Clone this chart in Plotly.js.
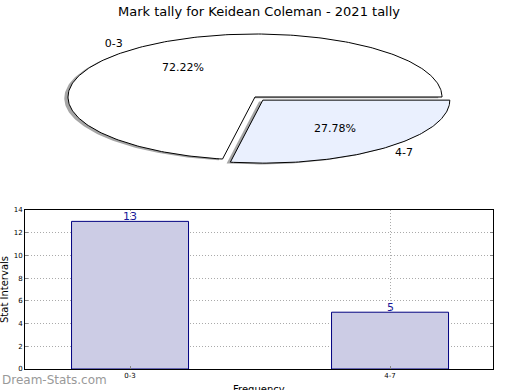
<!DOCTYPE html>
<html><head><meta charset="utf-8">
<script src="https://cdn.plot.ly/plotly-3.0.1.min.js"></script>
<style>body{margin:0}#chart{width:520px;height:390px}</style>
</head><body><div id="chart"></div>
<script>
// ---- data ----
const categories = ['0-3', '4-7'];
const counts = [13, 5];
const explode = [0, 0.065];
const sliceColors = ['#ffffff', '#eaf0fe'];
const yTicks = [0, 2, 4, 6, 8, 10, 12, 14];
const chartTitle = 'Mark tally for Keidean Coleman - 2021 tally';

const FONT = 'DejaVu Sans, Verdana, sans-serif';
const total = counts.reduce((a, b) => a + b, 0);
const shadows = [], slices = [], texts = [];
let a0 = 0;
counts.forEach((v, i) => {
  const frac = v / total;
  const a1 = a0 + frac * 2 * Math.PI;
  const mid = (a0 + a1) / 2;
  const ox = explode[i] * Math.cos(mid), oy = explode[i] * Math.sin(mid);
  const xs = [ox], ys = [oy];
  const n = Math.max(4, Math.ceil(frac * 360));
  for (let k = 0; k <= n; k++) {
    const a = a0 + (a1 - a0) * k / n;
    xs.push(ox + Math.cos(a)); ys.push(oy + Math.sin(a));
  }
  xs.push(ox); ys.push(oy);
  shadows.push({type: 'scatter', x: xs.map(x => x - 0.02), y: ys.map(y => y - 0.02),
    xaxis: 'x2', yaxis: 'y2', mode: 'lines', fill: 'toself',
    fillcolor: 'rgba(77,77,77,0.5)', line: {width: 0}, hoverinfo: 'skip', showlegend: false});
  slices.push({type: 'scatter', x: xs, y: ys, xaxis: 'x2', yaxis: 'y2', mode: 'lines',
    fill: 'toself', fillcolor: sliceColors[i], line: {color: '#000', width: 1},
    name: categories[i], hoverinfo: 'name', showlegend: false});
  texts.push({type: 'scatter', x: [ox + 0.6 * Math.cos(mid)], y: [oy + 0.6 * Math.sin(mid)],
    text: [(frac * 100).toFixed(2) + '%'], mode: 'text', textposition: 'middle center',
    textfont: {family: FONT, size: 11, color: '#000'}, xaxis: 'x2', yaxis: 'y2',
    hoverinfo: 'skip', showlegend: false});
  const c = Math.cos(mid);
  texts.push({type: 'scatter', x: [ox + 1.1 * c], y: [oy + 1.1 * Math.sin(mid)],
    text: [categories[i]], mode: 'text', textposition: c < 0 ? 'middle left' : 'middle right',
    textfont: {family: FONT, size: 11, color: '#000'}, xaxis: 'x2', yaxis: 'y2',
    hoverinfo: 'skip', showlegend: false, cliponaxis: false});
  a0 = a1;
});

const bar = {type: 'bar', x: categories, y: counts, width: 0.45,
  marker: {color: '#ccccE5', line: {color: '#000080', width: 1}},
  xaxis: 'x', yaxis: 'y', showlegend: false, hoverinfo: 'x+y'};

const barLabels = categories.map((c, i) => ({
  text: String(counts[i]), xref: 'x', yref: 'y', x: c, y: counts[i],
  xanchor: 'center', yanchor: 'bottom', yshift: -4, showarrow: false,
  font: {family: FONT, size: 11, color: '#1a1a9a'}}));

const W = 520, H = 390;
const gridDash = '1px,2px';
const layout = {
  width: W, height: H, margin: {l: 0, r: 0, t: 0, b: 0},
  paper_bgcolor: '#fff', plot_bgcolor: 'rgba(0,0,0,0)',
  font: {family: FONT, color: '#000'},
  showlegend: false,
  title: {text: chartTitle, x: 259 / W, xanchor: 'center', y: 1 - 11 / H, yanchor: 'middle',
    font: {family: FONT, size: 13, color: '#000'}},
  xaxis: {domain: [25 / W, 493 / W], type: 'category', categoryarray: categories,
    range: [-0.404, 1.396], showline: true, linecolor: '#000', linewidth: 1, mirror: true,
    ticks: 'inside', ticklen: 3, tickcolor: '#888', showgrid: true, gridcolor: '#aaa',
    griddash: gridDash, gridwidth: 1, tickfont: {family: FONT, size: 7, color: '#000'},
    zeroline: false, fixedrange: true, anchor: 'y'},
  yaxis: {domain: [1 - 369 / H, 1 - 210 / H], range: [0, 14], tickvals: yTicks,
    showline: true, linecolor: '#000', linewidth: 1, mirror: 'ticks',
    ticks: 'inside', ticklen: 3, tickcolor: '#888', showgrid: true, gridcolor: '#aaa',
    griddash: gridDash, gridwidth: 1, tickfont: {family: FONT, size: 7, color: '#000'},
    zeroline: false, fixedrange: true, anchor: 'x'},
  xaxis2: {domain: [0.4904 - 0.4675, 0.4904 + 0.4675], range: [-1.3, 1.3], visible: false,
    fixedrange: true, anchor: 'y2'},
  yaxis2: {domain: [0.7513 - 0.21, 0.7513 + 0.21], range: [-1.3, 1.3], visible: false,
    fixedrange: true, anchor: 'x2'},
  annotations: [
    ...barLabels,
    {text: 'Stat Intervals', textangle: -90, xref: 'paper', yref: 'paper',
     x: 4 / W, y: 1 - 290 / H, xanchor: 'center', yanchor: 'middle', showarrow: false,
     font: {family: FONT, size: 10, color: '#000'}},
    {text: 'Frequency', xref: 'paper', yref: 'paper', x: 259 / W, y: 1 - 382 / H,
     xanchor: 'center', yanchor: 'top', showarrow: false,
     font: {family: FONT, size: 10, color: '#000'}},
    {text: 'Dream-Stats.com', xref: 'paper', yref: 'paper', x: 0, y: 1 - 380 / H,
     xanchor: 'left', yanchor: 'middle', showarrow: false,
     font: {family: FONT, size: 12, color: '#999'}}
  ]
};

Plotly.newPlot('chart', [...shadows, ...slices, ...texts, bar], layout,
  {displayModeBar: false, staticPlot: true});
</script></body></html>
